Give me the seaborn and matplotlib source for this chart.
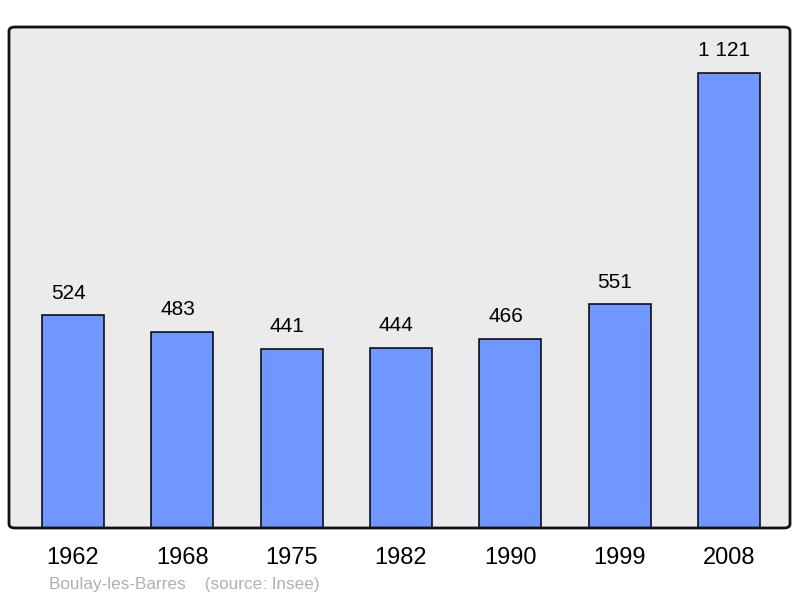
import matplotlib
matplotlib.use("Agg")
import matplotlib.pyplot as plt
import seaborn as sns
import pandas as pd
from matplotlib.patches import FancyBboxPatch

years = ["1962", "1968", "1975", "1982", "1990", "1999", "2008"]
population = [524, 483, 441, 444, 466, 551, 1121]
value_labels = ["524", "483", "441", "444", "466", "551", "1 121"]
footer = "Boulay-les-Barres    (source: Insee)"

sns.set_theme(style="white")
plt.rcParams["font.family"] = ["Liberation Sans", "DejaVu Sans"]

df = pd.DataFrame({"year": years, "pop": population})

fig = plt.figure(figsize=(8.0, 5.98), dpi=100)
ax = fig.add_axes([9/800, 1 - 528/598, 781/800, 501/598])
ax.set_facecolor("#ebebeb")

sns.barplot(data=df, x="year", y="pop", color="#7096ff", width=0.567,
            edgecolor="black", linewidth=1.1, saturation=1, ax=ax)
for p in ax.patches:
    p.set_facecolor("#7096ff")

ax.set_xlim(-0.585, 6.558)
ax.set_ylim(0, 1234)
ax.set_xlabel("")
ax.set_ylabel("")
ax.set_yticks([])
ax.tick_params(axis="x", length=0, labelsize=17, pad=14, colors="black")
for s in ax.spines.values():
    s.set_visible(False)

for i, (v, lab) in enumerate(zip(population, value_labels)):
    ax.annotate(lab, (i, v), xytext=(-3.5, 9), textcoords="offset points",
                ha="center", va="bottom", fontsize=15, color="black")

frame = FancyBboxPatch((0, 0), 1, 1, boxstyle="round,pad=0,rounding_size=0.008",
                       transform=ax.transAxes, facecolor="none",
                       edgecolor="#111111", linewidth=2, clip_on=False, zorder=5)
ax.add_patch(frame)

fig.text(49/800, 1 - 584/598, footer, fontsize=12.3, color="#b0b0b0",
         ha="left", va="center")

fig.savefig("out.png", dpi=100)
